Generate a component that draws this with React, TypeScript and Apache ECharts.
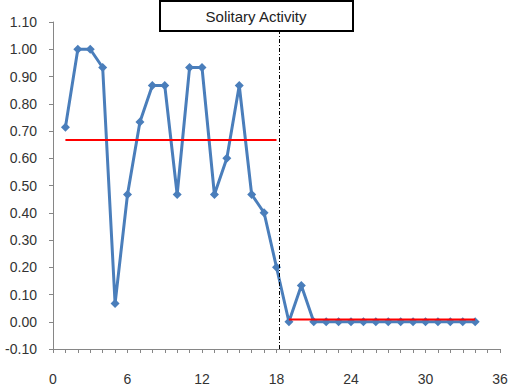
import React, { useEffect, useRef } from "react";
import * as echarts from "echarts";

const sessions = [1,2,3,4,5,6,7,8,9,10,11,12,13,14,15,16,17,18,19,20,21,22,23,24,25,26,27,28,29,30,31,32,33,34];
const values = [0.714,1.0,1.0,0.933,0.067,0.467,0.733,0.867,0.867,0.467,0.933,0.933,0.467,0.6,0.867,0.467,0.4,0.2,0,0.133,0,0,0,0,0,0,0,0,0,0,0,0,0,0];
const baselineMean = 0.667;
const baselineRange = [1, 18];
const interventionMean = 0.0083;
const interventionRange = [19, 34];
const phaseChangeX = 18.25;
const titleText = "Solitary Activity";

export default function App() {
  const ref = useRef<HTMLDivElement>(null);
  useEffect(() => {
    const chart = echarts.init(ref.current!, null, { renderer: "svg" });
    const font = "'Liberation Sans', Arial, sans-serif";
    chart.setOption({
      animation: false,
      backgroundColor: "#ffffff",
      grid: { left: 53, right: 12, top: 22, bottom: 34.5, containLabel: false },
      xAxis: {
        type: "value",
        min: 0,
        max: 36,
        interval: 6,
        axisLine: { show: true, onZero: false, lineStyle: { color: "#868686", width: 1 } },
        axisTick: { show: true, length: 4, lineStyle: { color: "#868686" } },
        minorTick: { show: true, splitNumber: 6, length: 4, lineStyle: { color: "#868686" } },
        splitLine: { show: false },
        axisLabel: { color: "#333", fontFamily: font, fontSize: 14, margin: 23 },
      },
      yAxis: {
        type: "value",
        min: -0.1,
        max: 1.1,
        interval: 0.1,
        axisLine: { show: true, onZero: false, lineStyle: { color: "#868686", width: 1 } },
        axisTick: { show: true, length: 4, lineStyle: { color: "#868686" } },
        splitLine: { show: false },
        axisLabel: {
          color: "#333",
          fontFamily: font,
          fontSize: 14,
          margin: 16,
          formatter: (v: number) => v.toFixed(2),
        },
      },
      series: [
        {
          type: "line",
          data: sessions.map((s, i) => [s, values[i]]),
          lineStyle: { color: "#4a7ebb", width: 3 },
          itemStyle: { color: "#4a7ebb" },
          symbol: "diamond",
          symbolSize: 9,
          z: 2,
          markLine: {
            silent: true,
            symbol: "none",
            label: { show: false },
            lineStyle: { color: "#000", width: 1, type: [4, 2, 1, 2] },
            data: [{ xAxis: phaseChangeX }],
          },
        },
        {
          type: "line",
          data: baselineRange.map((x) => [x, baselineMean]),
          lineStyle: { color: "#ff0000", width: 2 },
          symbol: "none",
          z: 3,
        },
        {
          type: "line",
          data: interventionRange.map((x) => [x, interventionMean]),
          lineStyle: { color: "#ff0000", width: 2 },
          symbol: "none",
          z: 3,
        },
      ],
      graphic: [
        {
          type: "rect",
          z: 100,
          zlevel: 0,
          shape: { x: 160, y: 1, width: 193, height: 30 },
          style: { fill: "#ffffff", stroke: "#000000", lineWidth: 2 },
        },
        {
          type: "text",
          z: 101,
          x: 256,
          y: 16,
          style: {
            text: titleText,
            fill: "#222",
            font: "15px 'Liberation Sans', Arial, sans-serif",
            textAlign: "center",
            textVerticalAlign: "middle",
          },
        },
      ],
    });
    return () => chart.dispose();
  }, []);
  return (
    <div
      ref={ref}
      style={{ position: "fixed", left: 0, top: 0, width: 512, height: 386 }}
    />
  );
}
